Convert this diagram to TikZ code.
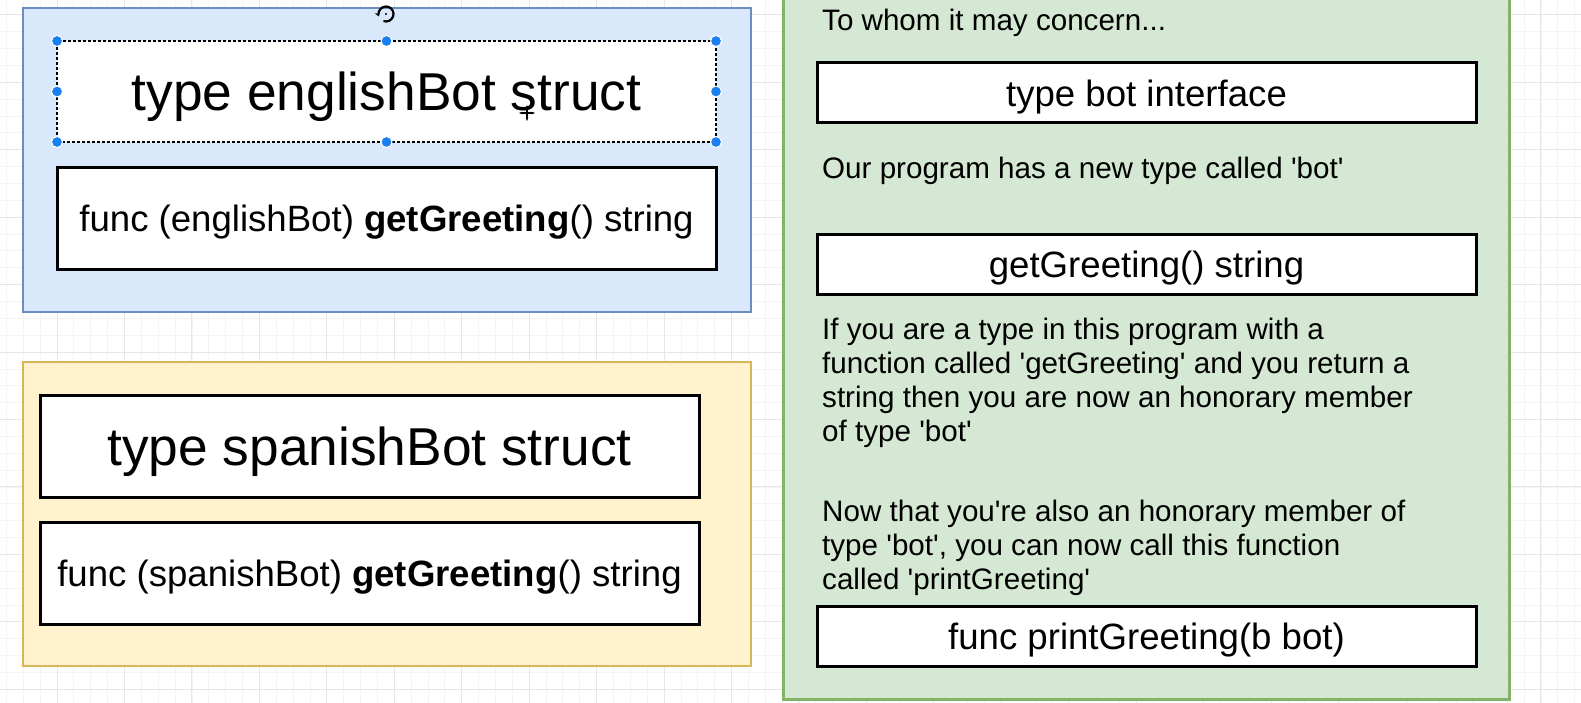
\documentclass[tikz,border=0pt]{standalone}
\usepackage{fontspec}
\setmainfont{Liberation Sans}[Ligatures=TeXOff]
\usepackage{tikz}
\usetikzlibrary{arrows.meta, positioning}
\definecolor{bluefill}{HTML}{DAE8FC}
\definecolor{blueline}{HTML}{6C8EBF}
\definecolor{yellowfill}{HTML}{FFF2CC}
\definecolor{yellowline}{HTML}{D6B656}
\definecolor{greenfill}{HTML}{D5E8D4}
\definecolor{greenline}{HTML}{82B366}
\definecolor{handleblue}{HTML}{1A7FF0}
\definecolor{gridlight}{HTML}{F4F4F4}
\definecolor{griddark}{HTML}{E6E6E6}

\begin{document}
\begin{tikzpicture}[
    x=1pt, y=-1pt,
    group/.style={draw, line width=2.5pt, minimum width=728pt, minimum height=304pt, inner sep=0pt, outer sep=0pt},
    codebox/.style={draw, line width=3pt, fill=white, minimum width=659pt, inner sep=0pt, outer sep=0pt, text depth=0pt},
    bigtxt/.style={font=\fontsize{53.3}{60}\selectfont},
    midtxt/.style={font=\fontsize{36.6}{42}\selectfont},
    note/.style={anchor=base west, align=left, inner sep=0pt, font=\fontsize{29.6}{34}\selectfont},
    handle/.style={fill=handleblue, draw=white, line width=1pt},
    gridminor/.style={draw=gridlight, line width=0.8pt},
    gridmajor/.style={draw=griddark, line width=1pt}
]
    \clip (0,0) rectangle (1581,703);

    % background grid
    \foreach \i in {0,...,96}
        \draw[gridminor] ({-10.45+16.8625*\i},0) -- ({-10.45+16.8625*\i},703);
    \foreach \i in {0,...,45}
        \draw[gridminor] (0,{-52.65+16.8625*\i}) -- (1581,{-52.65+16.8625*\i});
    \foreach \k in {-1,...,22}
        \draw[gridmajor] ({57+67.45*\k},0) -- ({57+67.45*\k},703);
    \foreach \k in {0,...,10}
        \draw[gridmajor] (0,{14.8+67.45*\k}) -- (1581,{14.8+67.45*\k});

    % Containers
    \node[group, draw=blueline, fill=bluefill] (english) at (387,160) {};
    \node[group, draw=yellowline, fill=yellowfill] (spanish) at (387,514) {};
    \node[group, draw=greenline, fill=greenfill, line width=3pt, minimum width=726pt, minimum height=709pt] (iface) at (1146,344.5) {};

    % englishBot
    \node[codebox, bigtxt, minimum height=101pt, draw=black, line width=2pt, dash pattern=on 3pt off 2pt,
          preaction={draw=handleblue, line width=2pt}] (engtype) at (386.5,91.5) {type englishBot struct};
    \node[codebox, midtxt, minimum height=101pt, below=26pt of engtype] (engfunc)
        {func (englishBot) \textbf{getGreeting}() string};

    % spanishBot
    \node[codebox, bigtxt, minimum height=102pt] (spatype) at (369.5,446) {type spanishBot struct};
    \node[codebox, midtxt, minimum height=102pt, below=25pt of spatype] (spafunc)
        {func (spanishBot) \textbf{getGreeting}() string};

    % bot interface
    \node[note] (concern) at (822,31) {To whom it may concern...};
    \node[codebox, midtxt, minimum height=60pt] (bottype) at (1146.5,93) {type bot interface};
    \node[note] (newtype) at (822,179) {Our program has a new type called 'bot'};
    \node[codebox, midtxt, minimum height=59pt] (botfunc) at (1146.5,264.5) {getGreeting() string};
    \node[note] (member) at (822,441) {If you are a type in this program with a\\
        function called 'getGreeting' and you return a\\
        string then you are now an honorary member\\
        of type 'bot'};
    \node[note] (canuse) at (822,589) {Now that you're also an honorary member of\\
        type 'bot', you can now call this function\\
        called 'printGreeting'};
    \node[codebox, midtxt, minimum height=60pt] (printer) at (1146.5,636) {func printGreeting(b bot)};

    % selection handles
    \foreach \a in {north west, north, north east, east, south east, south, south west, west}
        \filldraw[handle] (engtype.\a) circle (5.5);
    \coordinate (rot) at (386,14);
    \draw[line width=2.2pt, -{Stealth[length=4.5pt, width=5.5pt]}] (rot) ++(110:7.5) arc[start angle=110, end angle=-200, radius=7.5];
    \fill (rot) circle (1.2);
    \coordinate (cursor) at (527,113);
    \draw[line width=1.4pt, {Stealth[length=3.5pt]}-{Stealth[length=3.5pt]}] ([xshift=-8pt]cursor) -- ([xshift=8pt]cursor);
    \draw[line width=1.4pt, {Stealth[length=3.5pt]}-{Stealth[length=3.5pt]}] ([yshift=-8pt]cursor) -- ([yshift=8pt]cursor);
\end{tikzpicture}
\end{document}
